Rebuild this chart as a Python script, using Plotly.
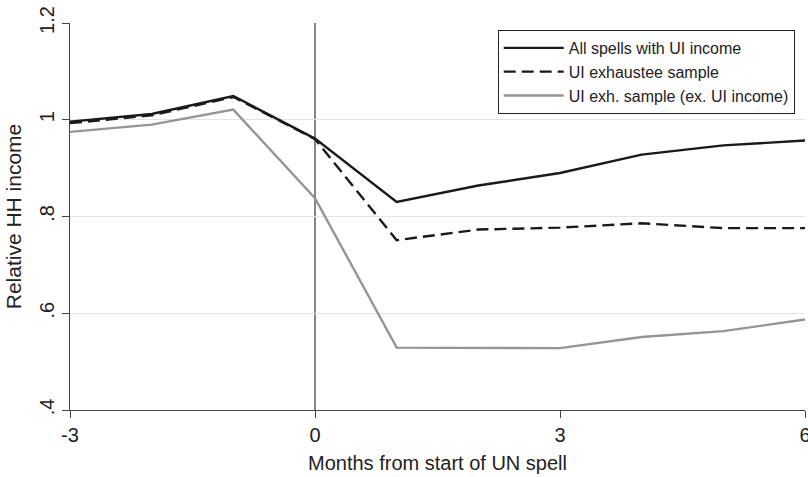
import plotly.graph_objects as go

months = [-3, -2, -1, 0, 1, 2, 3, 4, 5, 6]
all_spells = [0.996, 1.012, 1.049, 0.961, 0.830, 0.864, 0.890, 0.928, 0.947, 0.957]
exhaustee = [0.993, 1.009, 1.047, 0.960, 0.751, 0.773, 0.777, 0.786, 0.776, 0.776]
exh_ex_ui = [0.975, 0.990, 1.021, 0.838, 0.529, 0.528, 0.528, 0.551, 0.563, 0.587]

series_names = ["All spells with UI income", "UI exhaustee sample", "UI exh. sample (ex. UI income)"]
y_tickvals = [0.4, 0.6, 0.8, 1.0, 1.2]
y_ticktext = [".4", ".6", ".8", "1", "1.2"]
x_tickvals = [-3, 0, 3, 6]
x_ticktext = ["-3", "0", "3", "6"]
grid_vals = [0.6, 0.8, 1.0]

FONT = "Liberation Sans, Arial, Helvetica, sans-serif"
TXT = "#222222"

fig = go.Figure()
fig.add_trace(go.Scatter(x=months, y=all_spells, mode="lines", name=series_names[0],
                         line=dict(color="#1a1a1a", width=2.4)))
fig.add_trace(go.Scatter(x=months, y=exhaustee, mode="lines", name=series_names[1],
                         line=dict(color="#1a1a1a", width=2.4, dash="12px,6px")))
fig.add_trace(go.Scatter(x=months, y=exh_ex_ui, mode="lines", name=series_names[2],
                         line=dict(color="#959595", width=2.4)))

# invisible trace to carry grid axis
fig.add_trace(go.Scatter(x=[months[0]], y=[grid_vals[0]], yaxis="y2", mode="markers",
                         marker=dict(opacity=0), showlegend=False, hoverinfo="skip"))

fig.add_vline(x=0, line=dict(color="#444444", width=1.3), layer="below")

fig.update_layout(
    width=808, height=477,
    margin=dict(l=70, r=3, t=23, b=67),
    paper_bgcolor="white", plot_bgcolor="white",
    font=dict(family=FONT, color=TXT, size=20),
    showlegend=True,
    legend=dict(x=0.986, y=0.982, xanchor="right", yanchor="top",
                bordercolor="#222222", borderwidth=1, bgcolor="white",
                font=dict(size=16, family=FONT, color=TXT),
                tracegroupgap=0, itemwidth=60),
    xaxis=dict(range=[-3, 6], tickvals=x_tickvals, ticktext=x_ticktext, ticks="outside", ticklen=7,
               tickcolor="#444444", showline=True, linecolor="#444444", linewidth=1.3,
               showgrid=False, zeroline=False, tickfont=dict(size=20),
               ticklabeloverflow="allow", automargin=False,
               title=dict(text="Months from start of UN spell", font=dict(size=20), standoff=10)),
    yaxis=dict(range=[0.4, 1.2], tickvals=y_tickvals, ticktext=y_ticktext, ticks="outside",
               ticklen=7, tickcolor="#444444", showline=True, linecolor="#444444", linewidth=1.3,
               showgrid=False, zeroline=False, tickangle=-90, tickfont=dict(size=20),
               automargin=False, ticklabeloverflow="allow",
               title=dict(text="Relative HH income", font=dict(size=21), standoff=8)),
    yaxis2=dict(range=[0.4, 1.2], overlaying="y", side="left", tickvals=grid_vals,
                showticklabels=False, ticks="", showgrid=True, gridcolor="#e4e4e4", gridwidth=1.3,
                zeroline=False, showline=False),
)

fig.write_html("out.html", config={"displayModeBar": False},
               post_script="document.body.style.margin='0';document.body.style.overflow='hidden';")
